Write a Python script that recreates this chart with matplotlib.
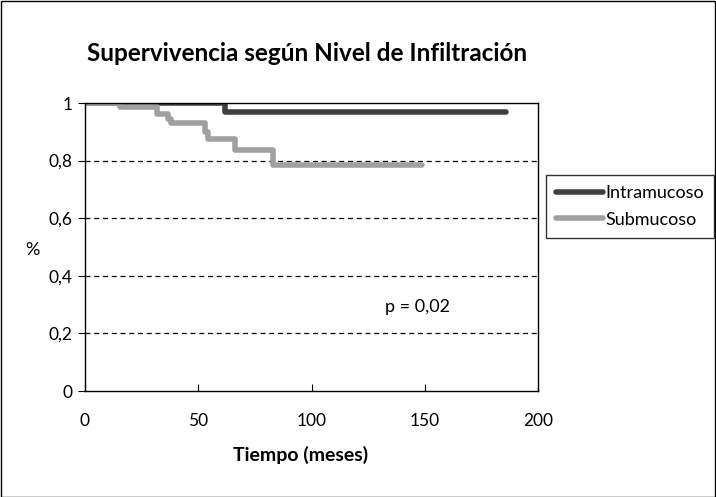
import matplotlib.pyplot as plt
from matplotlib.patches import Rectangle
from matplotlib.ticker import FuncFormatter

plt.rcParams['font.family'] = ['Lato', 'DejaVu Sans']

# Kaplan-Meier steps (time in months, survival)
intra_t = [0, 62, 186]
intra_s = [1.0, 0.97, 0.97]

sub_t = [0, 15.5, 31.6, 36.5, 38.0, 53.0, 54.5, 66.2, 83.1, 148.6]
sub_s = [1.0, 0.987, 0.962, 0.945, 0.929, 0.90, 0.874, 0.837, 0.785, 0.785]

fig = plt.figure(figsize=(7.16, 4.97), dpi=100)
ax = fig.add_axes([85/716, 1 - 391/497, 453/716, 288/497])

# frame around the whole chart
fig.patches.append(Rectangle((0.001, 0.001), 0.997, 0.997, transform=fig.transFigure,
                             fill=False, edgecolor='black', linewidth=1))

ax.step(intra_t, intra_s, where='post', color='#404040', linewidth=4,
        solid_capstyle='round', label='Intramucoso')
ax.step(sub_t, sub_s, where='post', color='#a0a0a0', linewidth=4,
        solid_capstyle='round', label='Submucoso')

ax.set_xlim(0, 200)
ax.set_ylim(0, 1)
ax.set_xticks([0, 50, 100, 150, 200])
ax.set_yticks([0, 0.2, 0.4, 0.6, 0.8, 1])
ax.yaxis.set_major_formatter(FuncFormatter(lambda v, p: f"{v:g}".replace('.', ',')))
for yv in [0.2, 0.4, 0.6, 0.8]:
    ax.axhline(yv, color='black', linestyle=(0, (4, 3)), linewidth=0.9, zorder=0)

ax.tick_params(axis='x', direction='in', length=5, labelsize=12.5, pad=16)
ax.tick_params(axis='y', direction='out', length=5, labelsize=12.5, pad=4)
for s in ax.spines.values():
    s.set_linewidth(1)

ax.set_title('Supervivencia según Nivel de Infiltración', fontsize=17.5,
             fontweight='bold', pad=30, x=0.49)
ax.set_xlabel('Tiempo (meses)', fontsize=14, fontweight='bold', labelpad=12, x=0.476)
ax.set_ylabel('%', fontsize=13, rotation=0, va='center')
ax.yaxis.set_label_coords(-0.117, 0.49)
ax.text(147, 0.29, 'p = 0,02', fontsize=13, ha='center', va='center')

leg = fig.legend(loc='upper left', bbox_to_anchor=(546/716, 1 - 175/497), fontsize=13,
                 frameon=True, fancybox=False, edgecolor='black', handlelength=2.6,
                 borderpad=0.55, labelspacing=0.6, handletextpad=0.15,
                 borderaxespad=0)
leg.get_frame().set_linewidth(1)

fig.savefig('out.png', dpi=100)
